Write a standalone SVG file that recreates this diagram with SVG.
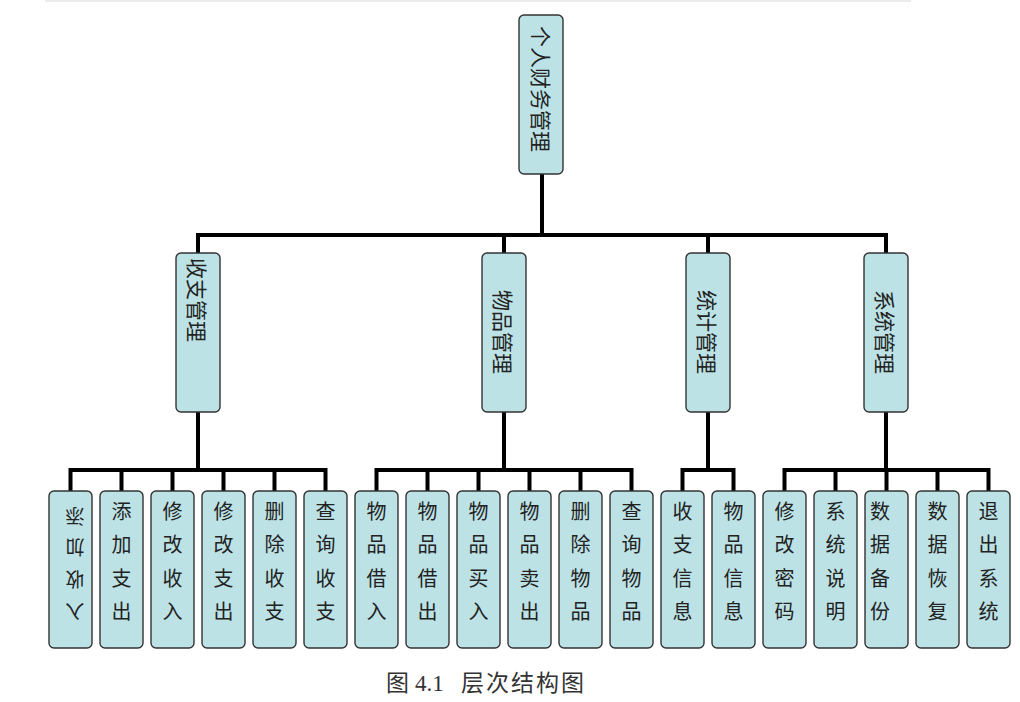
<svg xmlns="http://www.w3.org/2000/svg" width="1020" height="702" viewBox="0 0 1020 702">
<style>
.n{fill:#bde2e6;stroke:#333;stroke-width:1.4}
.c{fill:none;stroke:#000;stroke-width:4;stroke-linejoin:miter}
.r{font-family:"Noto Sans CJK SC",sans-serif;font-size:21px;fill:#222;text-anchor:middle;dominant-baseline:central}
.l{font-family:"Noto Sans CJK SC",sans-serif;font-size:20px;fill:#222;text-anchor:middle}
.cap{font-family:"Liberation Serif","Noto Sans CJK SC",serif;font-size:23px;fill:#333}
</style>
<rect x="0" y="0" width="1020" height="702" fill="#fff"/>
<rect x="45" y="0" width="866" height="2" fill="#ececec"/>
<g id="connectors">
<path class="c" d="M542 174V235M198 253V235H886V253M504 235V253M708 235V253"/>
<path class="c" d="M198 412V470M70.5 491V470H325.5V491M121.5 470V491M172.5 470V491M223.5 470V491M274.5 470V491"/>
<path class="c" d="M504 412V470M376.5 491V470H631.5V491M427.5 470V491M478.5 470V491M529.5 470V491M580.5 470V491"/>
<path class="c" d="M708 412V470M682.5 491V470H733.5V491"/>
<path class="c" d="M886 412V470M784.5 491V470H988.5V491M835.5 470V491M886.5 470V491M937.5 470V491"/>
</g>
<g id="root">
<rect class="n" x="519" y="15" width="44" height="159" rx="5"/>
<text class="r" transform="translate(542 89) rotate(90)">个人财务管理</text>
</g>
<g id="m1">
<rect class="n" x="176" y="253" width="44" height="159" rx="5"/>
<text class="r" transform="translate(198 300) rotate(90)">收支管理</text>
</g>
<g id="m2">
<rect class="n" x="482" y="253" width="44" height="159" rx="5"/>
<text class="r" transform="translate(504 332) rotate(90)">物品管理</text>
</g>
<g id="m3">
<rect class="n" x="686" y="253" width="44" height="159" rx="5"/>
<text class="r" transform="translate(708 332) rotate(90)">统计管理</text>
</g>
<g id="m4">
<rect class="n" x="864" y="253" width="44" height="159" rx="5"/>
<text class="r" transform="translate(886 332) rotate(90)">系统管理</text>
</g>
<g id="leaf1">
<rect class="n" x="49" y="491" width="43" height="157" rx="5"/>
<g class="r" style="font-size:19px">
<text transform="rotate(180 75 517)" x="75" y="517">添</text>
<text transform="rotate(180 75 548)" x="75" y="548">加</text>
<text transform="rotate(180 75 580)" x="75" y="580">收</text>
<text transform="rotate(180 75 612)" x="75" y="612">入</text>
</g>
</g>
<g id="leaf2"><rect class="n" x="100" y="491" width="43" height="157" rx="5"/>
<text class="l"><tspan x="121.5" y="519">添</tspan><tspan x="121.5" y="552">加</tspan><tspan x="121.5" y="586">支</tspan><tspan x="121.5" y="619">出</tspan></text></g>
<g id="leaf3"><rect class="n" x="151" y="491" width="43" height="157" rx="5"/>
<text class="l"><tspan x="172.5" y="519">修</tspan><tspan x="172.5" y="552">改</tspan><tspan x="172.5" y="586">收</tspan><tspan x="172.5" y="619">入</tspan></text></g>
<g id="leaf4"><rect class="n" x="202" y="491" width="43" height="157" rx="5"/>
<text class="l"><tspan x="223.5" y="519">修</tspan><tspan x="223.5" y="552">改</tspan><tspan x="223.5" y="586">支</tspan><tspan x="223.5" y="619">出</tspan></text></g>
<g id="leaf5"><rect class="n" x="253" y="491" width="43" height="157" rx="5"/>
<text class="l"><tspan x="274.5" y="519">删</tspan><tspan x="274.5" y="552">除</tspan><tspan x="274.5" y="586">收</tspan><tspan x="274.5" y="619">支</tspan></text></g>
<g id="leaf6"><rect class="n" x="304" y="491" width="43" height="157" rx="5"/>
<text class="l"><tspan x="325.5" y="519">查</tspan><tspan x="325.5" y="552">询</tspan><tspan x="325.5" y="586">收</tspan><tspan x="325.5" y="619">支</tspan></text></g>
<g id="leaf7"><rect class="n" x="355" y="491" width="43" height="157" rx="5"/>
<text class="l"><tspan x="376.5" y="519">物</tspan><tspan x="376.5" y="552">品</tspan><tspan x="376.5" y="586">借</tspan><tspan x="376.5" y="619">入</tspan></text></g>
<g id="leaf8"><rect class="n" x="406" y="491" width="43" height="157" rx="5"/>
<text class="l"><tspan x="427.5" y="519">物</tspan><tspan x="427.5" y="552">品</tspan><tspan x="427.5" y="586">借</tspan><tspan x="427.5" y="619">出</tspan></text></g>
<g id="leaf9"><rect class="n" x="457" y="491" width="43" height="157" rx="5"/>
<text class="l"><tspan x="478.5" y="519">物</tspan><tspan x="478.5" y="552">品</tspan><tspan x="478.5" y="586">买</tspan><tspan x="478.5" y="619">入</tspan></text></g>
<g id="leaf10"><rect class="n" x="508" y="491" width="43" height="157" rx="5"/>
<text class="l"><tspan x="529.5" y="519">物</tspan><tspan x="529.5" y="552">品</tspan><tspan x="529.5" y="586">卖</tspan><tspan x="529.5" y="619">出</tspan></text></g>
<g id="leaf11"><rect class="n" x="559" y="491" width="43" height="157" rx="5"/>
<text class="l"><tspan x="580.5" y="519">删</tspan><tspan x="580.5" y="552">除</tspan><tspan x="580.5" y="586">物</tspan><tspan x="580.5" y="619">品</tspan></text></g>
<g id="leaf12"><rect class="n" x="610" y="491" width="43" height="157" rx="5"/>
<text class="l"><tspan x="631.5" y="519">查</tspan><tspan x="631.5" y="552">询</tspan><tspan x="631.5" y="586">物</tspan><tspan x="631.5" y="619">品</tspan></text></g>
<g id="leaf13"><rect class="n" x="661" y="491" width="43" height="157" rx="5"/>
<text class="l"><tspan x="682.5" y="519">收</tspan><tspan x="682.5" y="552">支</tspan><tspan x="682.5" y="586">信</tspan><tspan x="682.5" y="619">息</tspan></text></g>
<g id="leaf14"><rect class="n" x="712" y="491" width="43" height="157" rx="5"/>
<text class="l"><tspan x="733.5" y="519">物</tspan><tspan x="733.5" y="552">品</tspan><tspan x="733.5" y="586">信</tspan><tspan x="733.5" y="619">息</tspan></text></g>
<g id="leaf15"><rect class="n" x="763" y="491" width="43" height="157" rx="5"/>
<text class="l"><tspan x="784.5" y="519">修</tspan><tspan x="784.5" y="552">改</tspan><tspan x="784.5" y="586">密</tspan><tspan x="784.5" y="619">码</tspan></text></g>
<g id="leaf16"><rect class="n" x="814" y="491" width="43" height="157" rx="5"/>
<text class="l"><tspan x="835.5" y="519">系</tspan><tspan x="835.5" y="552">统</tspan><tspan x="835.5" y="586">说</tspan><tspan x="835.5" y="619">明</tspan></text></g>
<g id="leaf17"><rect class="n" x="865" y="491" width="43" height="157" rx="5"/>
<text class="l"><tspan x="880" y="519">数</tspan><tspan x="880" y="552">据</tspan><tspan x="880" y="586">备</tspan><tspan x="880" y="619">份</tspan></text></g>
<g id="leaf18"><rect class="n" x="916" y="491" width="43" height="157" rx="5"/>
<text class="l"><tspan x="937.5" y="519">数</tspan><tspan x="937.5" y="552">据</tspan><tspan x="937.5" y="586">恢</tspan><tspan x="937.5" y="619">复</tspan></text></g>
<g id="leaf19"><rect class="n" x="967" y="491" width="43" height="157" rx="5"/>
<text class="l"><tspan x="988.5" y="519">退</tspan><tspan x="988.5" y="552">出</tspan><tspan x="988.5" y="586">系</tspan><tspan x="988.5" y="619">统</tspan></text></g>
<g id="caption" class="cap">
<text x="386" y="691">图</text>
<text x="415" y="691">4.1</text>
<text x="461" y="691" letter-spacing="2">层次结构图</text>
</g>
</svg>
